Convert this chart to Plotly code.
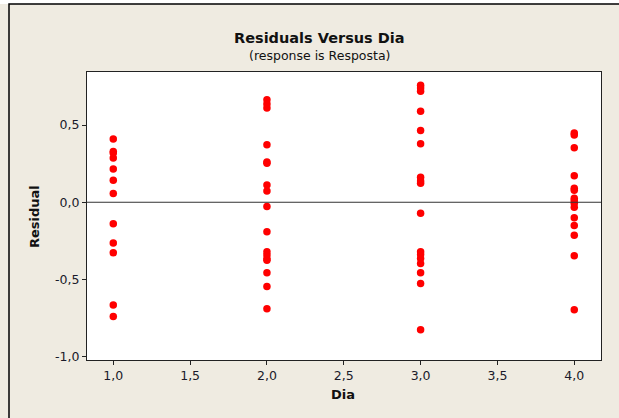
import plotly.graph_objects as go

# Data
dia1 = [0.409, 0.329, 0.318, 0.286, 0.216, 0.143, 0.056, -0.139, -0.264, -0.327, -0.665, -0.740]
dia2 = [0.664, 0.636, 0.610, 0.372, 0.260, 0.252, 0.112, 0.073, -0.028, -0.191, -0.321, -0.342,
        -0.365, -0.375, -0.457, -0.546, -0.689]
dia3 = [0.757, 0.740, 0.718, 0.589, 0.465, 0.379, 0.162, 0.138, 0.123, -0.072, -0.321, -0.338,
        -0.364, -0.396, -0.457, -0.526, -0.825]
dia4 = [0.448, 0.436, 0.353, 0.171, 0.090, 0.078, 0.026, 0.011, -0.007, -0.033, -0.100, -0.150,
        -0.214, -0.347, -0.695]
days = [1, 2, 3, 4]
groups = [dia1, dia2, dia3, dia4]

x_ticks = [1.0, 1.5, 2.0, 2.5, 3.0, 3.5, 4.0]
x_tick_labels = ["1,0", "1,5", "2,0", "2,5", "3,0", "3,5", "4,0"]
y_ticks = [-1.0, -0.5, 0.0, 0.5]
y_tick_labels = ["-1,0", "-0,5", "0,0", "0,5"]

x_vals = []
y_vals = []
for d, g in zip(days, groups):
    x_vals += [d] * len(g)
    y_vals += g

W, H = 619, 418
L, R, T, B = 87, 18, 72, 58
PW, PH = W - L - R, H - T - B

def px(x):
    return (x - L) / PW

def py(y):
    return (H - B - y) / PH

BG = "#EFEBE1"
FONT = "DejaVu Sans"

fig = go.Figure()
fig.add_trace(go.Scatter(
    x=x_vals, y=y_vals, mode="markers",
    marker=dict(color="#FF0000", size=7.5, line=dict(width=0)),
    showlegend=False, hoverinfo="x+y"))

fig.add_hline(y=0, line=dict(color="#333333", width=1))

axis_common = dict(showgrid=False, zeroline=False, showline=True, mirror=True,
                   linecolor="#222222", linewidth=1, ticks="outside", ticklen=4,
                   tickcolor="#222222", tickfont=dict(size=12.5, family=FONT, color="#1a1a2a"))

fig.update_layout(
    width=W, height=H,
    margin=dict(l=L, r=R, t=T, b=B, pad=0),
    paper_bgcolor=BG, plot_bgcolor="white",
    font=dict(family=FONT, size=12, color="#1a1a2a"),
    xaxis=dict(range=[0.829, 4.174], tickvals=x_ticks, ticktext=x_tick_labels, **axis_common),
    yaxis=dict(range=[-1.021, 0.843], tickvals=y_ticks, ticktext=y_tick_labels, **axis_common),
    annotations=[
        dict(text="<b>Residuals Versus Dia</b>", x=px(319), y=py(38), xref="paper", yref="paper",
             showarrow=False, xanchor="center", yanchor="middle",
             font=dict(size=14.5, family=FONT, color="#111111")),
        dict(text="(response is Resposta)", x=px(319), y=py(55), xref="paper", yref="paper",
             showarrow=False, xanchor="center", yanchor="middle",
             font=dict(size=12.5, family=FONT, color="#111111")),
        dict(text="<b>Dia</b>", x=px(343), y=py(394), xref="paper", yref="paper",
             showarrow=False, xanchor="center", yanchor="middle",
             font=dict(size=13, family=FONT, color="#111111")),
        dict(text="<b>Residual</b>", x=px(34), y=py(217), xref="paper", yref="paper",
             showarrow=False, xanchor="center", yanchor="middle", textangle=-90,
             font=dict(size=13, family=FONT, color="#111111")),
    ],
    shapes=[
        dict(type="rect", xref="paper", yref="paper", x0=px(-5), x1=px(9), y0=py(430), y1=py(-5),
             fillcolor="white", line=dict(width=0), layer="above"),
        dict(type="rect", xref="paper", yref="paper", x0=px(-5), x1=px(630), y0=py(4), y1=py(-5),
             fillcolor="white", line=dict(width=0), layer="above"),
        dict(type="rect", xref="paper", yref="paper", x0=px(9), x1=px(700), y0=py(500), y1=py(4),
             fillcolor="rgba(0,0,0,0)", line=dict(color="black", width=1.5), layer="above"),
    ],
)

fig.write_html("out.html",
               config={"displayModeBar": False},
               post_script="document.body.style.margin='0';document.body.style.padding='0';")
